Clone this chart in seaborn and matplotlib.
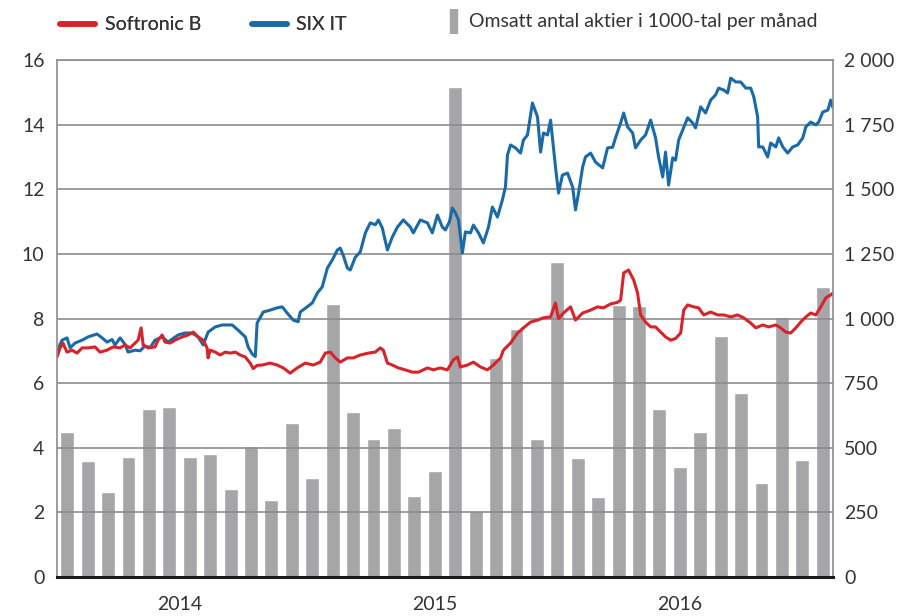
import numpy as np
import pandas as pd
import matplotlib.pyplot as plt
import seaborn as sns
from matplotlib.lines import Line2D

# Monthly turnover, thousands of shares (Jan 2014 - Feb 2017)
volume = [562, 450, 328, 465, 649, 659, 464, 476, 339, 507, 298, 595,
          382, 1056, 640, 533, 577, 313, 411, 1895, 255, 849, 958, 533,
          1220, 461, 308, 1052, 1048, 649, 424, 562, 934, 713, 363, 1007,
          452, 1121]

# SIX IT index (months since start of 2014)
six_month = [0.00, 0.15, 0.25, 0.49, 0.64, 0.88, 1.23, 1.52, 1.96, 2.21, 2.45, 2.70,
             2.84, 3.09, 3.33, 3.48, 3.82, 4.07, 4.31, 4.56, 4.80, 5.15, 5.44, 5.93,
             6.27, 6.62, 6.91, 7.16, 7.40, 7.75, 8.09, 8.58, 8.87, 9.22, 9.36, 9.56,
             9.71, 9.80, 10.10, 10.44, 10.78, 11.03, 11.27, 11.57, 11.81, 11.91, 12.25, 12.50,
             12.75, 12.99, 13.24, 13.48, 13.73, 13.87, 14.02, 14.22, 14.36, 14.61, 14.85, 15.10,
             15.34, 15.59, 15.74, 15.93, 16.18, 16.42, 16.67, 16.96, 17.30, 17.45, 17.79, 18.14,
             18.38, 18.63, 18.87, 19.02, 19.22, 19.36, 19.51, 19.66, 19.85, 20.00, 20.25, 20.39,
             20.64, 20.88, 21.13, 21.32, 21.57, 21.81, 21.96, 22.06, 22.21, 22.45, 22.70, 22.84,
             23.04, 23.28, 23.53, 23.68, 23.82, 24.02, 24.17, 24.41, 24.56, 24.75, 25.00, 25.25,
             25.39, 25.54, 25.74, 25.88, 26.13, 26.37, 26.72, 26.96, 27.21, 27.35, 27.60, 27.75,
             27.94, 28.19, 28.33, 28.58, 28.82, 29.07, 29.31, 29.46, 29.66, 29.80, 29.95, 30.15,
             30.29, 30.44, 30.64, 30.88, 31.13, 31.27, 31.52, 31.76, 32.01, 32.25, 32.40, 32.65,
             32.84, 32.99, 33.24, 33.48, 33.73, 33.97, 34.12, 34.31, 34.36, 34.56, 34.80, 34.95,
             35.20, 35.34, 35.54, 35.78, 36.03, 36.27, 36.52, 36.67, 36.91, 37.16, 37.30, 37.50,
             37.75, 37.89, 38.00]
six_value = [6.90, 7.20, 7.33, 7.40, 7.09, 7.24, 7.33, 7.43, 7.52, 7.40, 7.27, 7.35,
             7.18, 7.40, 7.20, 6.96, 7.02, 7.00, 7.15, 7.10, 7.33, 7.43, 7.27, 7.49,
             7.55, 7.55, 7.43, 7.18, 7.58, 7.74, 7.80, 7.80, 7.64, 7.43, 7.12, 6.90,
             6.82, 7.86, 8.20, 8.26, 8.33, 8.36, 8.17, 7.95, 7.90, 8.20, 8.36, 8.48,
             8.79, 8.98, 9.56, 9.81, 10.12, 10.18, 9.95, 9.56, 9.50, 9.90, 10.06, 10.65,
             10.96, 10.90, 11.05, 10.80, 10.12, 10.52, 10.83, 11.05, 10.83, 10.65, 11.05, 10.96,
             10.65, 11.20, 10.83, 10.74, 11.00, 11.42, 11.27, 11.05, 10.03, 10.68, 10.65, 10.89,
             10.65, 10.34, 10.83, 11.45, 11.14, 11.67, 12.07, 13.06, 13.37, 13.28, 13.12, 13.52,
             13.68, 14.67, 14.24, 13.15, 13.74, 13.68, 14.14, 12.69, 11.88, 12.44, 12.50, 12.07,
             11.36, 11.88, 12.69, 13.00, 13.12, 12.84, 12.66, 13.28, 13.30, 13.59, 14.05, 14.36,
             13.93, 13.74, 13.28, 13.52, 13.68, 14.14, 13.59, 13.00, 12.38, 13.15, 12.13, 12.97,
             12.90, 13.52, 13.83, 14.21, 14.05, 13.90, 14.55, 14.36, 14.76, 14.92, 15.13, 15.07,
             14.98, 15.44, 15.32, 15.32, 15.13, 15.13, 14.86, 14.24, 13.31, 13.31, 13.00, 13.43,
             13.31, 13.59, 13.31, 13.12, 13.31, 13.37, 13.59, 13.93, 14.08, 13.99, 14.08, 14.39,
             14.45, 14.76, 14.52]

# Softronic B share price
soft_month = [0.00, 0.15, 0.29, 0.49, 0.74, 0.98, 1.23, 1.52, 1.86, 2.11, 2.45, 2.75,
              3.09, 3.33, 3.58, 3.82, 3.97, 4.12, 4.22, 4.46, 4.80, 4.95, 5.15, 5.29,
              5.54, 5.78, 6.13, 6.42, 6.67, 6.91, 7.16, 7.35, 7.40, 7.50, 7.75, 7.99,
              8.24, 8.48, 8.73, 8.97, 9.22, 9.46, 9.61, 9.80, 10.05, 10.44, 10.78, 11.08,
              11.42, 11.76, 12.16, 12.55, 12.89, 13.14, 13.38, 13.63, 13.87, 14.22, 14.51, 14.85,
              15.25, 15.59, 15.83, 15.98, 16.18, 16.42, 16.72, 17.06, 17.40, 17.70, 18.14, 18.43,
              18.77, 19.12, 19.41, 19.61, 19.75, 20.10, 20.39, 20.74, 21.08, 21.37, 21.72, 21.86,
              22.21, 22.55, 22.84, 23.19, 23.53, 23.82, 24.17, 24.41, 24.56, 24.80, 25.15, 25.39,
              25.74, 26.13, 26.47, 26.76, 27.11, 27.45, 27.60, 27.75, 27.99, 28.24, 28.43, 28.58,
              28.82, 29.07, 29.31, 29.56, 29.80, 30.05, 30.29, 30.54, 30.69, 30.88, 31.18, 31.42,
              31.67, 32.01, 32.35, 32.65, 32.99, 33.33, 33.63, 33.97, 34.22, 34.56, 34.85, 35.20,
              35.44, 35.69, 35.93, 36.18, 36.42, 36.67, 36.91, 37.16, 37.40, 37.65, 37.89, 38.00]
soft_value = [6.81, 7.09, 7.24, 6.96, 7.02, 6.93, 7.09, 7.09, 7.12, 6.96, 7.02, 7.12,
              7.09, 7.18, 7.09, 7.24, 7.33, 7.71, 7.18, 7.09, 7.12, 7.33, 7.49, 7.27,
              7.24, 7.33, 7.43, 7.49, 7.58, 7.43, 7.33, 7.09, 6.78, 7.02, 6.96, 6.87,
              6.96, 6.93, 6.96, 6.87, 6.81, 6.62, 6.45, 6.55, 6.56, 6.62, 6.56, 6.47,
              6.31, 6.47, 6.62, 6.56, 6.65, 6.93, 6.96, 6.78, 6.65, 6.78, 6.78, 6.87,
              6.93, 6.96, 7.09, 7.02, 6.62, 6.56, 6.47, 6.41, 6.34, 6.34, 6.47, 6.41,
              6.47, 6.41, 6.72, 6.81, 6.50, 6.56, 6.65, 6.50, 6.41, 6.56, 6.78, 7.02,
              7.24, 7.55, 7.71, 7.89, 7.95, 8.02, 8.05, 8.48, 8.00, 8.17, 8.36, 7.95,
              8.17, 8.26, 8.36, 8.33, 8.45, 8.50, 8.57, 9.41, 9.50, 9.19, 8.79, 8.11,
              7.89, 7.74, 7.74, 7.58, 7.43, 7.33, 7.38, 7.55, 8.26, 8.42, 8.36, 8.33,
              8.11, 8.20, 8.11, 8.11, 8.05, 8.11, 8.02, 7.86, 7.71, 7.80, 7.74, 7.80,
              7.71, 7.58, 7.55, 7.71, 7.89, 8.05, 8.17, 8.11, 8.36, 8.64, 8.73, 8.79]

year_labels = ['2014', '2015', '2016']
year_pos = [6, 18.5, 30.5]

red = '#d8232a'
blue = '#1b6aa8'
grey = '#a6a6a9'
txt = '#333333'

sns.set_style('white')
plt.rcParams['font.family'] = ['Lato', 'DejaVu Sans']
fs = 14

fig = plt.figure(figsize=(9.09, 6.16), dpi=100)
ax = fig.add_axes([57 / 909, 1 - 577 / 616, 776 / 909, 517 / 616])

# bars on the right-hand axis
bars = pd.DataFrame({'month': np.arange(len(volume)) + 0.5, 'volume': volume})
sns.barplot(data=bars, x='month', y='volume', native_scale=True, orient='x',
            color=grey, saturation=1, width=0.68, ax=ax)
ax.set_xlim(0, 38)
ax.set_ylim(0, 2000)
ax.grid(axis='y', color='#8c8c8c', lw=1.2)
ax.grid(axis='x', visible=False)
ax.set_axisbelow(False)
for s in ax.spines.values():
    s.set_visible(False)
ax.set_xlabel('')
ax.set_ylabel('')

# price lines on the left-hand axis
ax2 = ax.twinx()
sns.lineplot(x=six_month, y=six_value, color=blue, lw=2.2, estimator=None, sort=False, ax=ax2)
sns.lineplot(x=soft_month, y=soft_value, color=red, lw=2.2, estimator=None, sort=False, ax=ax2)
ax2.set_ylim(0, 16)
ax2.set_xlim(0, 38)
ax2.set_yticks(range(0, 17, 2))
for side in ['left', 'right', 'top']:
    ax2.spines[side].set_visible(True)
    ax2.spines[side].set_color('#8c8c8c')
    ax2.spines[side].set_linewidth(1.2)
ax2.spines['bottom'].set_visible(True)
ax2.spines['bottom'].set_color('#1a1a1a')
ax2.spines['bottom'].set_linewidth(2.2)

# year labels live on the shared x axis of the bar axes
ax.set_xticks(year_pos)
ax.set_xticklabels(year_labels)

# swap sides: volume axis on the right, price axis on the left
ax.yaxis.tick_right()
ax.set_yticks(range(0, 2001, 250))
ax.set_yticklabels([f'{v:,}'.replace(',', ' ') for v in range(0, 2001, 250)])
ax2.yaxis.tick_left()
ax2.yaxis.set_label_position('left')

ax.tick_params(axis='y', length=0, pad=8, labelsize=fs, labelcolor=txt,
               labelright=True, labelleft=False)
ax.tick_params(axis='x', length=0, pad=14, labelsize=fs, labelcolor=txt, labelbottom=True)
ax2.tick_params(axis='y', length=0, pad=9, labelsize=fs, labelcolor=txt,
                labelleft=True, labelright=False)

# legend above the plot
h_lines = [Line2D([], [], color=red, lw=4), Line2D([], [], color=blue, lw=4)]
leg1 = fig.legend(handles=h_lines, labels=['Softronic B', 'SIX IT'], loc='center left',
                  bbox_to_anchor=(60 / 909, 1 - 25 / 616), ncol=2, frameon=False,
                  handlelength=1.8, handletextpad=0.5, columnspacing=2.6,
                  borderpad=0, borderaxespad=0, fontsize=fs, labelcolor=txt)
h_bar = [Line2D([], [], color=grey, marker='|', markersize=18, markeredgewidth=6, ls='none')]
leg2 = fig.legend(handles=h_bar, labels=['Omsatt antal aktier i 1000-tal per månad'],
                  loc='center left', bbox_to_anchor=(448 / 909, 1 - 22 / 616), frameon=False,
                  handlelength=0.6, handletextpad=0.5, borderpad=0, borderaxespad=0,
                  fontsize=fs, labelcolor=txt)
fig.add_artist(leg1)

fig.savefig('out.png', dpi=100)
